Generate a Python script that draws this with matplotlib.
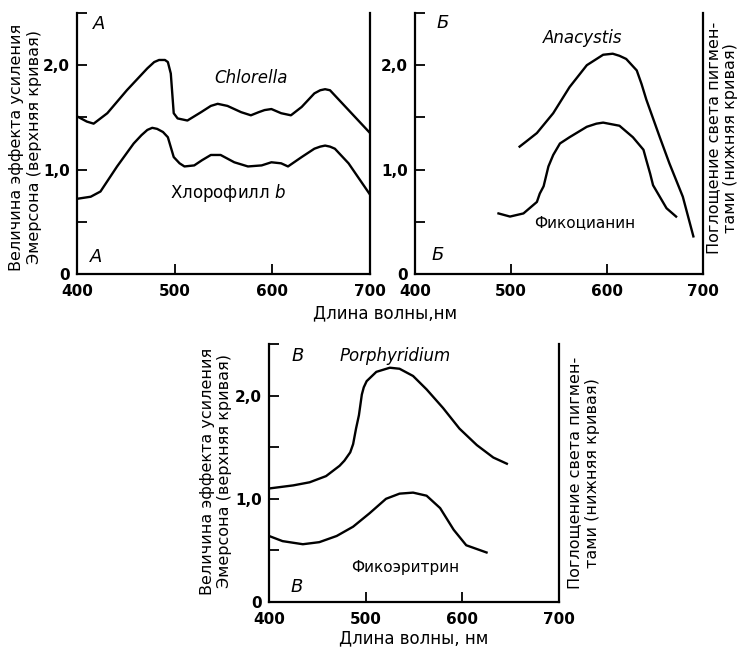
import matplotlib
matplotlib.use('Agg')
from matplotlib import pyplot as plt

# panel A: Chlorella (upper) and chlorophyll b (lower)
chl_x = [400, 410, 417, 431, 451, 462, 472, 479, 484, 490, 493, 496, 499, 503, 513, 527, 537, 544, 554,
         568, 578, 586, 592, 599, 609, 619, 630, 643, 649, 654, 659, 664, 678, 700]
chl_y = [1.51, 1.46, 1.44, 1.54, 1.76, 1.87, 1.97, 2.03, 2.05, 2.05, 2.03, 1.92, 1.54, 1.49, 1.47, 1.55, 1.61, 1.63, 1.61,
         1.55, 1.52, 1.55, 1.57, 1.58, 1.54, 1.52, 1.60, 1.73, 1.76, 1.77, 1.76, 1.71, 1.57, 1.35]
chlb_x = [400, 414, 424, 441, 458, 466, 472, 477, 482, 488, 493, 499, 505, 510, 520, 528, 537, 547, 561, 575,
          589, 599, 609, 616, 630, 643, 649, 654, 659, 664, 678, 700]
chlb_y = [0.72, 0.74, 0.79, 1.03, 1.25, 1.33, 1.38, 1.40, 1.39, 1.36, 1.31, 1.12, 1.06, 1.03, 1.04, 1.09, 1.14, 1.14, 1.07, 1.03,
          1.04, 1.07, 1.06, 1.03, 1.12, 1.20, 1.22, 1.23, 1.22, 1.20, 1.06, 0.76]

# panel B: Anacystis and phycocyanin
ana_x = [509, 516, 527, 544, 561, 579, 596, 606, 613, 620, 631, 636, 641, 655, 665, 679, 690]
ana_y = [1.22, 1.27, 1.35, 1.54, 1.79, 2.00, 2.10, 2.11, 2.09, 2.06, 1.95, 1.82, 1.67, 1.31, 1.06, 0.74, 0.36]
pc_x = [487, 499, 513, 527, 530, 534, 539, 544, 551, 561, 579, 589, 596, 613, 627, 638, 641, 645, 648,
        655, 662, 672]
pc_y = [0.58, 0.55, 0.58, 0.69, 0.77, 0.84, 1.03, 1.14, 1.25, 1.31, 1.41, 1.44, 1.45, 1.42, 1.31, 1.19, 1.09, 0.96, 0.85,
        0.74, 0.63, 0.55]

# panel V: Porphyridium and phycoerythrin
por_x = [400, 425, 442, 459, 473, 478, 484, 487, 490, 493, 496, 498, 501, 511, 525, 535, 549, 563, 580,
         597, 615, 632, 646]
por_y = [1.10, 1.13, 1.16, 1.22, 1.32, 1.37, 1.45, 1.53, 1.68, 1.81, 2.01, 2.08, 2.14, 2.23, 2.27, 2.26, 2.19, 2.06, 1.88,
         1.68, 1.52, 1.40, 1.34]
pe_x = [400, 414, 435, 452, 470, 487, 504, 521, 535, 549, 563, 577, 591, 604, 625]
pe_y = [0.64, 0.59, 0.56, 0.58, 0.64, 0.73, 0.86, 1.00, 1.05, 1.06, 1.03, 0.91, 0.70, 0.55, 0.48]

x_ticks = [400, 500, 600, 700]
y_ticks = [0, 0.5, 1.0, 1.5, 2.0, 2.5]
y_labels = ['0', '', '1,0', '', '2,0', '']

left_label = 'Величина эффекта усиления\nЭмерсона (верхняя кривая)'
right_label = 'Поглощение света пигмен-\nтами (нижняя кривая)'

plt.rcParams['font.family'] = 'DejaVu Sans'
fig = plt.figure(figsize=(7.45, 6.5), dpi=100)


def setup(ax):
    ax.set_xlim(400, 700)
    ax.set_ylim(0, 2.5)
    ax.spines['top'].set_visible(False)
    for s in ['left', 'right', 'bottom']:
        ax.spines[s].set_linewidth(1.6)
    ax.set_xticks(x_ticks)
    ax.set_xticklabels([str(v) for v in x_ticks], fontsize=11, fontweight='bold')
    ax.set_yticks(y_ticks)
    ax.set_yticklabels(y_labels, fontsize=11, fontweight='bold')
    ax.tick_params(direction='in', length=7, width=1.3, pad=5)
    ax.tick_params(axis='x', pad=7)


axA = fig.add_axes([0.1034, 0.5785, 0.3933, 0.4015])
setup(axA)
axA.plot(chl_x, chl_y, color='black', lw=1.7)
axA.plot(chlb_x, chlb_y, color='black', lw=1.7)
axA.text(578, 1.88, 'Chlorella', style='italic', fontsize=12, ha='center', va='center')
axA.text(555, 0.78, 'Хлорофилл $\\mathit{b}$', fontsize=12, ha='center', va='center')
axA.text(423, 2.39, 'A', style='italic', fontsize=13, ha='center', va='center')
axA.text(420, 0.16, 'A', style='italic', fontsize=13, ha='center', va='center')

axB = fig.add_axes([0.557, 0.5785, 0.3866, 0.4015])
setup(axB)
axB.plot(ana_x, ana_y, color='black', lw=1.7)
axB.plot(pc_x, pc_y, color='black', lw=1.7)
axB.text(575, 2.26, 'Anacystis', style='italic', fontsize=12, ha='center', va='center')
axB.text(577, 0.49, 'Фикоцианин', fontsize=11, ha='center', va='center')
axB.text(429, 2.40, 'Б', style='italic', fontsize=13, ha='center', va='center')
axB.text(424, 0.18, 'Б', style='italic', fontsize=13, ha='center', va='center')

axV = fig.add_axes([0.3611, 0.0738, 0.3893, 0.397])
setup(axV)
axV.plot(por_x, por_y, color='black', lw=1.7)
axV.plot(pe_x, pe_y, color='black', lw=1.7)
axV.text(530, 2.38, 'Porphyridium', style='italic', fontsize=12, ha='center', va='center')
axV.text(541, 0.33, 'Фикоэритрин', fontsize=11, ha='center', va='center')
axV.text(430, 2.38, 'В', style='italic', fontsize=13, ha='center', va='center')
axV.text(429, 0.15, 'В', style='italic', fontsize=13, ha='center', va='center')
axV.set_xlabel('Длина волны, нм', fontsize=12, labelpad=2)

fig.text(0.517, 0.518, 'Длина волны,нм', fontsize=12, ha='center', va='center')
fig.text(0.034, 0.774, left_label, rotation=90, fontsize=11.5, ha='center', va='center',
         multialignment='center')
fig.text(0.29, 0.275, left_label, rotation=90, fontsize=11.5, ha='center', va='center',
         multialignment='center')
fig.text(0.969, 0.788, right_label, rotation=90, fontsize=11.5, ha='center', va='center',
         multialignment='center')
fig.text(0.783, 0.272, right_label, rotation=90, fontsize=11.5, ha='center', va='center',
         multialignment='center')

fig.savefig('out.png', dpi=100)
